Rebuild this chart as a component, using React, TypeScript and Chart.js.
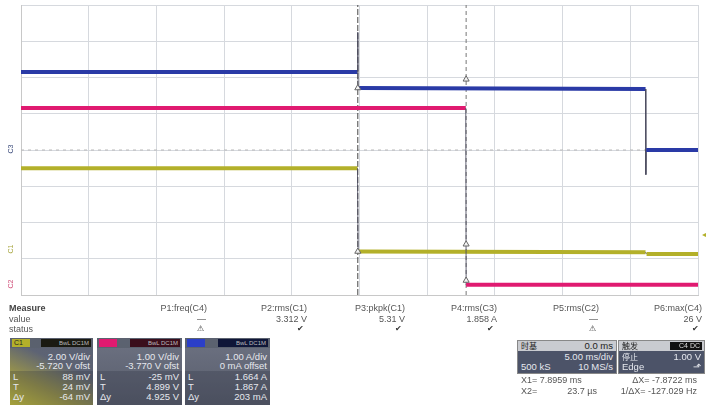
import React, { useEffect, useRef } from "react";
import { Chart, registerables } from "chart.js";

Chart.register(...registerables);

// ---- data (time in divisions 0..10, value in divisions -4..4) ----
const blueTimes = [0, 4.97, 4.975, 4.98, 9.225, 9.23, 9.235, 10];
const blueValues = [2.15, 2.15, 3.25, 1.71, 1.68, -0.68, 0.0, 0.0];
const pinkTimes = [0, 6.57, 6.575, 10];
const pinkValues = [1.16, 1.16, -3.72, -3.72];
const yellowTimes = [0, 4.97, 4.98, 9.225, 9.24, 10];
const yellowValues = [-0.5, -0.5, -2.8, -2.82, -2.87, -2.87];
const cursorTimes = [4.975, 6.575];
const markerTimes = [4.975, 4.975, 6.575, 6.575, 6.575];
const markerValues = [1.71, -2.8, 1.95, -2.6, -3.6];

const measureHeads = ["P1:freq(C4)", "P2:rms(C1)", "P3:pkpk(C1)", "P4:rms(C3)", "P5:rms(C2)", "P6:max(C4)"];
const measureValues = ["---", "3.312 V", "5.31 V", "1.858 A", "---", "26 V"];
const measureStatus = ["⚠", "✔", "✔", "✔", "⚠", "✔"];
const measureRight = [207, 307, 405, 497, 599, 702];

const chScale = ["2.00 V/div", "1.00 V/div", "1.00 A/div"];
const chOffset = ["-5.720 V ofst", "-3.770 V ofst", "0 mA offset"];
const chL = ["88 mV", "-25 mV", "1.664 A"];
const chT = ["24 mV", "4.899 V", "1.867 A"];
const chDy = ["-64 mV", "4.925 V", "203 mA"];

const pts = (xs: number[], ys: number[]) => xs.map((x, i) => ({ x, y: ys[i] }));

const BLUE = "#2a3aa6";
const PINK = "#e01a70";
const YELLOW = "#b3b02a";

// thick horizontal runs, thin vertical transitions
const seg = (color: string) => ({
  borderWidth: (c: any) => (Math.abs(c.p1.x - c.p0.x) < 3 ? 1 : 4),
  borderColor: (c: any) => (Math.abs(c.p1.x - c.p0.x) < 3 ? "rgba(70,70,90,0.85)" : color),
});

export default function App() {
  const ref = useRef<HTMLCanvasElement | null>(null);
  useEffect(() => {
    document.body.style.margin = "0";
    const ctx = ref.current!;
    const cursorSets = cursorTimes.map((t, i) => ({
      data: [{ x: t, y: -4 }, { x: t, y: 4 }],
      borderColor: i === 0 ? "#444" : "#777",
      borderWidth: 1,
      borderDash: i === 0 ? [6, 2] : [4, 3],
      pointRadius: 0,
    }));
    const chart = new Chart(ctx, {
      type: "line",
      data: {
        datasets: [
          {
            data: pts(markerTimes, markerValues),
            showLine: false,
            pointStyle: "triangle",
            pointRadius: 3.5,
            pointBackgroundColor: "#f4f4f4",
            pointBorderColor: "#666",
            pointBorderWidth: 1,
          },
          { data: pts(blueTimes, blueValues), borderColor: BLUE, borderWidth: 4, pointRadius: 0, segment: seg(BLUE) },
          { data: pts(pinkTimes, pinkValues), borderColor: PINK, borderWidth: 4, pointRadius: 0, segment: seg(PINK) },
          { data: pts(yellowTimes, yellowValues), borderColor: YELLOW, borderWidth: 4, pointRadius: 0, segment: seg(YELLOW) },
          ...cursorSets,
          {
            data: [{ x: 0, y: 0 }, { x: 10, y: 0 }],
            borderColor: "#b8b8b8",
            borderWidth: 1,
            borderDash: [3, 4],
            pointRadius: 0,
          },
        ],
      },
      options: {
        animation: false,
        responsive: false,
        events: [],
        layout: { padding: { left: 21, right: 15, top: 5, bottom: 5 } },
        plugins: { legend: { display: false }, tooltip: { enabled: false } },
        scales: {
          x: {
            type: "linear",
            min: 0,
            max: 10,
            ticks: { display: false, stepSize: 1 },
            grid: { color: "#d6d9de", drawTicks: false, lineWidth: 1 },
            border: { display: true, color: "#c8c8c8" },
          },
          y: {
            type: "linear",
            min: -4,
            max: 4,
            ticks: { display: false, stepSize: 1 },
            grid: { color: "#d6d9de", drawTicks: false, lineWidth: 1 },
            border: { display: true, color: "#c8c8c8" },
          },
        },
      },
    });
    return () => chart.destroy();
  }, []);

  const txt: React.CSSProperties = {
    position: "absolute",
    fontFamily: "'Liberation Sans', Arial, sans-serif",
    fontSize: 9,
    color: "#555",
    whiteSpace: "nowrap",
    lineHeight: "10px",
  };
  const boxTxt: React.CSSProperties = {
    position: "absolute",
    fontFamily: "'Liberation Sans', Arial, sans-serif",
    fontSize: 9.5,
    color: "#e6e8ee",
    whiteSpace: "nowrap",
    lineHeight: "10px",
  };

  const chBoxes = [
    { left: 10, width: 83, sw: YELLOW, lab: "#1a1a12", bg: "linear-gradient(25deg, #cfc83a 0%, #9a954a 30%, #5d6374 62%, #5a6172 100%)" },
    { left: 97, width: 85, sw: PINK, lab: "#3a0e1c", bg: "linear-gradient(180deg, #6d7282 0%, #575c6b 100%)" },
    { left: 185, width: 85, sw: "#2b3fc8", lab: "#0f1638", bg: "linear-gradient(180deg, #6d7282 0%, #575c6b 100%)" },
  ];

  return (
    <div style={{ position: "relative", width: 713, height: 405, background: "#fff", overflow: "hidden" }}>
      <canvas ref={ref} width={713} height={300} style={{ position: "absolute", left: 0, top: 0, width: 713, height: 300 }} />
      {/* channel markers on the left */}
      <div style={{ ...txt, left: 7, top: 144, fontSize: 7, color: "#3a4a7a", transform: "rotate(-90deg)" }}>C3</div>
      <div style={{ ...txt, left: 7, top: 244, fontSize: 7, color: "#a8a640", transform: "rotate(-90deg)" }}>C1</div>
      <div style={{ ...txt, left: 7, top: 279, fontSize: 7, color: "#d0507a", transform: "rotate(-90deg)" }}>C2</div>
      <div style={{ ...txt, left: 702, top: 230, fontSize: 8, color: YELLOW }}>◂</div>

      {/* measure table */}
      <div style={{ ...txt, left: 9, top: 303, fontWeight: "bold", color: "#444" }}>Measure</div>
      <div style={{ ...txt, left: 9, top: 314 }}>value</div>
      <div style={{ ...txt, left: 9, top: 324 }}>status</div>
      {measureHeads.map((h, i) => (
        <React.Fragment key={h}>
          <div style={{ ...txt, right: 713 - measureRight[i], top: 303 }}>{h}</div>
          <div style={{ ...txt, right: 713 - measureRight[i] + (measureValues[i] === "---" ? 1 : 0), top: 314 }}>
            {measureValues[i] === "---" ? "—" : measureValues[i]}
          </div>
          <div style={{ ...txt, right: 713 - measureRight[i] + 3, top: 324, fontSize: 8, color: "#333" }}>{measureStatus[i]}</div>
        </React.Fragment>
      ))}

      {/* channel boxes */}
      {chBoxes.map((b, i) => (
        <div key={i} style={{ position: "absolute", left: b.left, top: 338, width: b.width, height: 67, background: b.bg }}>
          <div style={{ position: "absolute", left: 0, top: 0, width: b.width, height: 10, background: "rgba(90,96,110,0.9)" }} />
          <div style={{ position: "absolute", left: 2, top: 1, width: 18, height: 8, background: b.sw }} />
          <div style={{ ...boxTxt, left: 4, top: 0, fontSize: 7, color: "#222" }}>{i === 0 ? "C1" : ""}</div>
          <div style={{ position: "absolute", right: 2, top: 1, width: 50, height: 8, background: b.lab }} />
          <div style={{ ...boxTxt, right: 4, top: 0, fontSize: 6, color: "#bbb" }}>BwL DC1M</div>
          <div style={{ ...boxTxt, right: 3, top: 14 }}>{chScale[i]}</div>
          <div style={{ ...boxTxt, right: 3, top: 23 }}>{chOffset[i]}</div>
          <div style={{ position: "absolute", left: 0, top: 33, width: b.width, height: 34, background: "rgba(40,44,58,0.25)" }} />
          <div style={{ ...boxTxt, left: 3, top: 34 }}>L</div>
          <div style={{ ...boxTxt, right: 3, top: 34 }}>{chL[i]}</div>
          <div style={{ ...boxTxt, left: 3, top: 44 }}>T</div>
          <div style={{ ...boxTxt, right: 3, top: 44 }}>{chT[i]}</div>
          <div style={{ ...boxTxt, left: 3, top: 54 }}>Δy</div>
          <div style={{ ...boxTxt, right: 3, top: 54 }}>{chDy[i]}</div>
        </div>
      ))}

      {/* timebase box */}
      <div style={{ position: "absolute", left: 517, top: 340, width: 98, height: 32, background: "#4c5368", border: "1px solid #888" }}>
        <div style={{ position: "absolute", left: 0, top: 0, width: 98, height: 10, background: "#c9cbd0" }} />
        <div style={{ ...boxTxt, left: 3, top: 0, color: "#222", fontFamily: "'Noto Sans CJK SC', sans-serif", fontSize: 8 }}>时基</div>
        <div style={{ ...boxTxt, right: 3, top: 0, color: "#222" }}>0.0 ms</div>
        <div style={{ ...boxTxt, right: 3, top: 11 }}>5.00 ms/div</div>
        <div style={{ ...boxTxt, left: 3, top: 21 }}>500 kS</div>
        <div style={{ ...boxTxt, right: 3, top: 21 }}>10 MS/s</div>
      </div>
      <div style={{ position: "absolute", left: 618, top: 340, width: 85, height: 32, background: "#4c5368", border: "1px solid #888" }}>
        <div style={{ position: "absolute", left: 0, top: 0, width: 85, height: 10, background: "#c9cbd0" }} />
        <div style={{ ...boxTxt, left: 3, top: 0, color: "#222", fontFamily: "'Noto Sans CJK SC', sans-serif", fontSize: 8 }}>触发</div>
        <div style={{ position: "absolute", right: 2, top: 1, width: 32, height: 8, background: "#111" }} />
        <div style={{ ...boxTxt, right: 4, top: 0, fontSize: 7, color: "#ddd" }}>C4 DC</div>
        <div style={{ ...boxTxt, left: 3, top: 11, fontFamily: "'Noto Sans CJK SC', sans-serif", fontSize: 8 }}>停止</div>
        <div style={{ ...boxTxt, right: 3, top: 11 }}>1.00 V</div>
        <div style={{ ...boxTxt, left: 3, top: 21 }}>Edge</div>
        <div style={{ ...boxTxt, right: 3, top: 21 }}>⬏</div>
      </div>
      <div style={{ ...txt, left: 521, top: 375 }}>X1= 7.8959 ms</div>
      <div style={{ ...txt, right: 713 - 697, top: 375 }}>ΔX= -7.8722 ms</div>
      <div style={{ ...txt, left: 521, top: 386 }}>X2=</div>
      <div style={{ ...txt, right: 713 - 597, top: 386 }}>23.7 µs</div>
      <div style={{ ...txt, right: 713 - 697, top: 386 }}>1/ΔX= -127.029 Hz</div>
    </div>
  );
}
